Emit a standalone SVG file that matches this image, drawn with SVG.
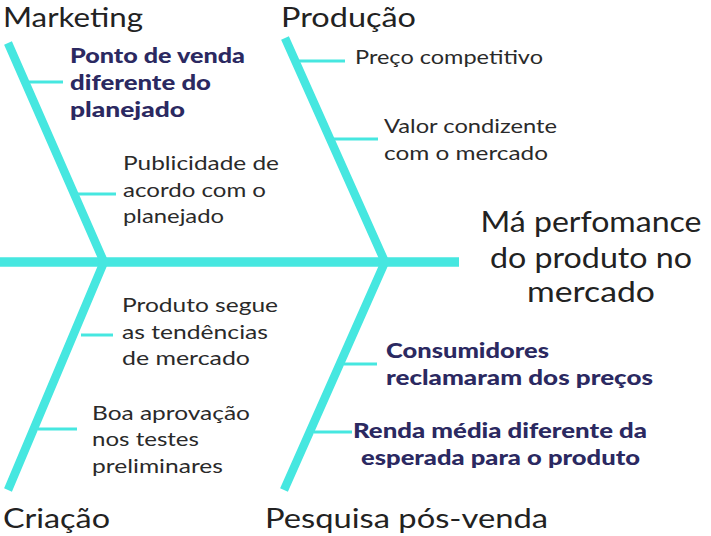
<svg xmlns="http://www.w3.org/2000/svg" width="711" height="536" viewBox="0 0 711 536">
<style>
.bone{stroke:#46E7E0;stroke-width:8.5;fill:none}
.spine{stroke:#46E7E0;stroke-width:9.5;fill:none}
.twig{stroke:#46E7E0;stroke-width:3;fill:none}
text{font-family:Lato,"Open Sans","Liberation Sans",sans-serif}
.cat{font-size:27px;fill:#222222}
.head{font-size:28px;fill:#222222;text-anchor:middle}
.item{font-size:20px;fill:#2a2a2a}
.key{font-size:20px;font-weight:900;fill:#2B2961}
</style>
<rect width="711" height="536" fill="#ffffff"/>
<g id="connectors">
<line class="spine" x1="0" y1="262" x2="459" y2="262"/>
<polyline class="bone" points="8,43 104,262 8,490"/>
<polyline class="bone" points="285,38 385,262 284,490"/>
<line class="twig" x1="27" y1="82" x2="63" y2="82"/>
<line class="twig" x1="78" y1="194" x2="116" y2="194"/>
<line class="twig" x1="297" y1="61" x2="345" y2="61"/>
<line class="twig" x1="333" y1="139" x2="378" y2="139"/>
<line class="twig" x1="81" y1="335" x2="113" y2="335"/>
<line class="twig" x1="38" y1="429" x2="77" y2="429"/>
<line class="twig" x1="344" y1="364" x2="377" y2="364"/>
<line class="twig" x1="314" y1="432" x2="352" y2="432"/>
</g>
<g id="effect">
<text class="head" x="591" y="232" textLength="221" lengthAdjust="spacingAndGlyphs">Má perfomance</text>
<text class="head" x="591" y="268" textLength="202" lengthAdjust="spacingAndGlyphs">do produto no</text>
<text class="head" x="591" y="302" textLength="128" lengthAdjust="spacingAndGlyphs">mercado</text>
</g>
<g id="marketing">
<text class="cat" x="3" y="27" textLength="140" lengthAdjust="spacingAndGlyphs">Marketing</text>
<text class="key" x="70" y="63" textLength="175" lengthAdjust="spacingAndGlyphs">Ponto de venda</text>
<text class="key" x="70" y="90" textLength="141" lengthAdjust="spacingAndGlyphs">diferente do</text>
<text class="key" x="70" y="117" textLength="115" lengthAdjust="spacingAndGlyphs">planejado</text>
<text class="item" x="123" y="170" textLength="156" lengthAdjust="spacingAndGlyphs">Publicidade de</text>
<text class="item" x="123" y="197" textLength="143" lengthAdjust="spacingAndGlyphs">acordo com o</text>
<text class="item" x="123" y="223" textLength="101" lengthAdjust="spacingAndGlyphs">planejado</text>
</g>
<g id="producao">
<text class="cat" x="281" y="27" textLength="135" lengthAdjust="spacingAndGlyphs">Produção</text>
<text class="item" x="355" y="64" textLength="188" lengthAdjust="spacingAndGlyphs">Preço competitivo</text>
<text class="item" x="384" y="133" textLength="173" lengthAdjust="spacingAndGlyphs">Valor condizente</text>
<text class="item" x="384" y="160" textLength="164" lengthAdjust="spacingAndGlyphs">com o mercado</text>
</g>
<g id="criacao">
<text class="cat" x="3" y="528" textLength="107" lengthAdjust="spacingAndGlyphs">Criação</text>
<text class="item" x="122" y="312" textLength="156" lengthAdjust="spacingAndGlyphs">Produto segue</text>
<text class="item" x="122" y="339" textLength="146" lengthAdjust="spacingAndGlyphs">as tendências</text>
<text class="item" x="122" y="365" textLength="128" lengthAdjust="spacingAndGlyphs">de mercado</text>
<text class="item" x="92" y="420" textLength="158" lengthAdjust="spacingAndGlyphs">Boa aprovação</text>
<text class="item" x="92" y="446" textLength="107" lengthAdjust="spacingAndGlyphs">nos testes</text>
<text class="item" x="92" y="473" textLength="131" lengthAdjust="spacingAndGlyphs">preliminares</text>
</g>
<g id="pesquisa">
<text class="cat" x="265" y="528" textLength="283" lengthAdjust="spacingAndGlyphs">Pesquisa pós-venda</text>
<text class="key" x="386" y="358" textLength="163" lengthAdjust="spacingAndGlyphs">Consumidores</text>
<text class="key" x="386" y="385" textLength="267" lengthAdjust="spacingAndGlyphs">reclamaram dos preços</text>
<text class="key" x="353" y="438" textLength="294" lengthAdjust="spacingAndGlyphs">Renda média diferente da</text>
<text class="key" x="361" y="465" textLength="279" lengthAdjust="spacingAndGlyphs">esperada para o produto</text>
</g>
</svg>
